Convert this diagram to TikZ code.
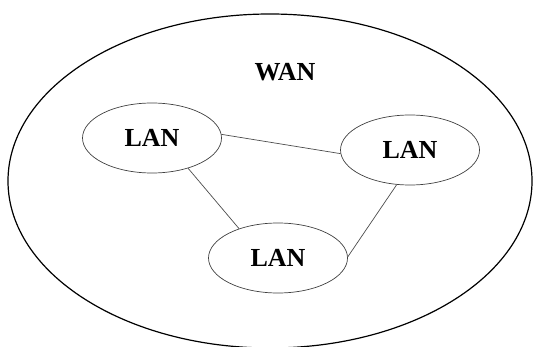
\documentclass[tikz,border=0pt]{standalone}
\usepackage{fontspec}
\setmainfont{Liberation Serif}
\usetikzlibrary{shapes.geometric}
\begin{document}
\begin{tikzpicture}[x=1pt,y=-1pt,
  lan/.style={ellipse,draw=black!75,line width=0.7pt,minimum width=139pt,minimum height=70pt,inner sep=0pt,
    font=\fontsize{26}{30}\selectfont\bfseries},
  link/.style={draw=black!70,line width=0.7pt},
  lbl/.style={font=\fontsize{26}{30}\selectfont\bfseries,inner sep=0pt}]
\useasboundingbox (0,0) rectangle (534,347);
\draw[line width=1.2pt] (270,181) ellipse [x radius=262, y radius=167];
\node[lbl] (wan) at (285,72) {WAN};
\node[lan] (l1) at (152,138) {LAN};
\node[lan] (l2) at (410,150) {LAN};
\node[lan] (l3) at (278,258) {LAN};
\draw[link] (l1.3) -- (l2.-177);
\draw[link] (l1.-40) -- (l3.143);
\draw[link] (l2.-111) -- (l3.1);
\end{tikzpicture}
\end{document}
